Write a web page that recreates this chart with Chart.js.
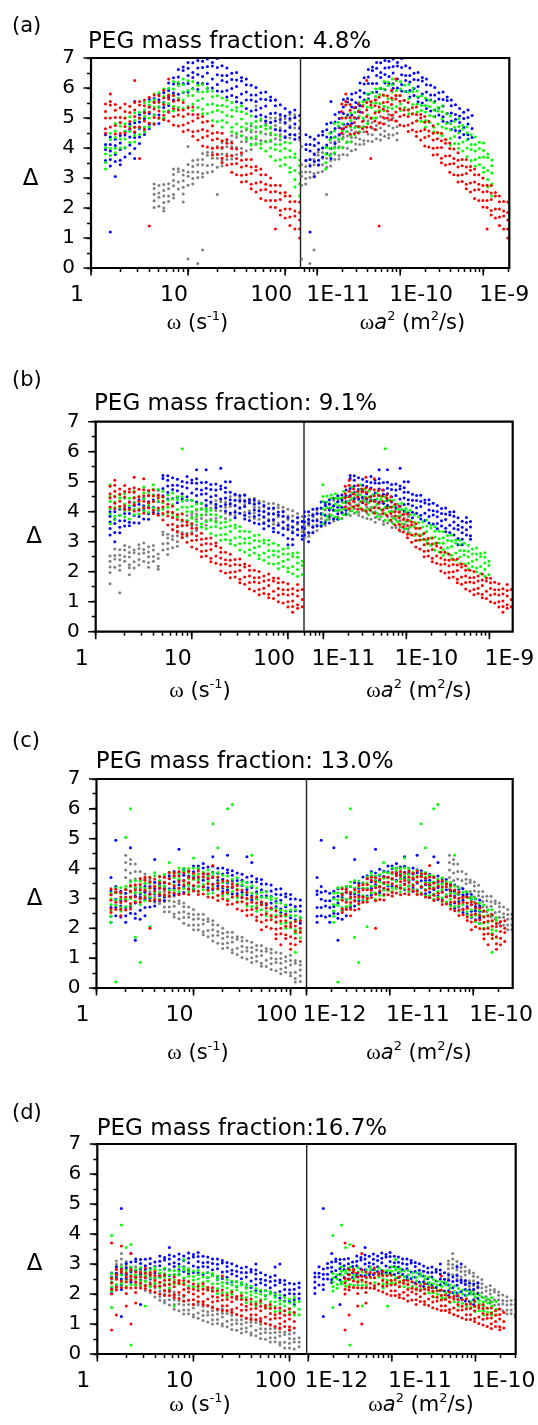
<!DOCTYPE html>
<html><head><meta charset="utf-8">
<script src="https://cdn.jsdelivr.net/npm/chart.js@4.4.1/dist/chart.umd.min.js"></script>
<style>
html,body{margin:0;padding:0;background:#fff;}
#wrap{position:relative;width:538px;height:1425px;overflow:hidden;background:#fff;}
canvas{position:absolute;left:0;top:0;}
</style></head><body><div id="wrap"></div>
<script>
// ---------- DATA ----------
// measurement frequencies omega (s^-1), one column per value
const omegaCols = [1.41,1.58,1.78,2.00,2.24,2.51,2.82,3.16,3.55,3.98,
  4.47,5.01,5.62,6.31,7.08,7.94,8.91,10.0,11.2,12.6,
  14.1,15.8,17.8,20.0,22.4,25.1,28.2,31.6,35.5,39.8,
  44.7,50.1,56.2,63.1,70.8,79.4,89.1,100,112,126,141];

// Panel (a) 4.8%: Delta values read per omega column
const A_blue = [[3.58,3.95,4.12,4.44],[1.2,3.4,3.62,3.9,4.12,4.37],[3.05,3.55,3.78,4.08,4.29],[3.44,3.59,3.95,4.17,4.42],[3.7,4.0,4.43,4.55],[3.82,4.1,4.37,4.61,4.8],[3.65,3.98,4.35,4.52,4.84,5.55],[4.15,4.37,4.65,4.87,5.12],[4.45,4.68,4.98,5.19],[4.64,4.79,5.15,5.37,5.62],
  [4.8,5.1,5.53,5.65],[4.82,5.1,5.37,5.61,5.8],[4.98,5.35,5.52,5.84],[5.2,5.42,5.7,5.92,6.17],[5.6,5.83,6.13,6.34],[5.64,5.79,6.15,6.37,6.62],[5.85,6.15,6.58,6.7],[5.87,6.15,6.42,6.66,6.85],[5.98,6.35,6.52,6.84],[5.95,6.17,6.45,6.67,6.92],
  [6.15,6.38,6.68,6.89],[5.99,6.14,6.5,6.72,6.97],[6.0,6.3,6.73,6.85],[5.9,6.12,6.44,6.68,6.98],[5.88,6.25,6.42,6.74],[5.7,5.92,6.2,6.42,6.67],[5.75,5.98,6.28,6.49],[5.54,5.69,6.05,6.27,6.52],[5.5,5.8,6.23,6.35],[5.32,5.6,5.87,6.11,6.3],
  [5.23,5.6,5.77,6.09],[5.05,5.27,5.55,5.77,6.02],[5.1,5.33,5.63,5.84],[4.89,5.04,5.4,5.62,5.87],[4.85,5.15,5.58,5.7],[4.62,4.9,5.17,5.41,5.6],[4.58,4.95,5.12,5.44],[4.35,4.57,4.85,5.07,5.32],[4.45,4.68,4.98,5.19],[4.29,4.44,4.8,5.02,5.27],
  [4.35,4.65,5.08]];
const A_green = [[3.3,3.52,3.8,4.02],[3.75,3.98,4.28,4.49],[3.84,3.99,4.35,4.57,4.82],[4.0,4.3,4.73,4.85],[4.02,4.3,4.57,4.81,5.0],[4.18,4.55,4.72,5.04],[4.2,4.42,4.7,4.92,5.17],[4.45,4.68,4.98,5.19],[4.54,4.69,5.05,5.27,5.52],[4.7,5.0,5.43,5.55],
  [4.82,5.1,5.37,5.61,5.8],[4.98,5.35,5.52,5.84],[5.0,5.22,5.5,5.72,5.97],[5.25,5.48,5.78,5.99],[5.24,5.39,5.75,5.97,6.22],[5.35,5.65,6.08,6.2],[5.32,5.6,5.87,6.11,6.3],[5.38,5.75,5.92,6.24],[5.25,5.47,5.75,5.97,6.22],[5.35,5.58,5.88,6.09],
  [5.14,5.29,5.65,5.87,6.12],[5.15,5.45,5.88,6.0],[4.92,5.2,5.47,5.71,5.9],[4.88,5.25,5.42,5.74],[4.7,4.92,5.2,5.42,5.67],[4.85,5.08,5.38,5.59],[4.54,4.69,5.05,5.27,5.52],[4.5,4.8,5.23,5.35],[4.42,4.7,4.97,5.21,5.4],[4.28,4.65,4.82,5.14],
  [4.1,4.32,4.6,4.82,5.07],[4.15,4.38,4.68,4.89],[3.99,4.14,4.5,4.72,4.97],[3.9,4.2,4.63,4.75],[3.72,4.0,4.27,4.51,4.7],[3.58,3.95,4.12,4.44],[3.4,3.62,3.9,4.12,4.37],[3.45,3.68,3.98,4.19],[3.19,3.34,3.7,3.92,4.17],[2.7,2.95,3.25,3.68,3.8],
  [2.4,2.8,3.17,3.41,3.6]];
const A_red = [[4.49,4.64,5.0,5.22,5.47],[4.7,5.0,5.43,5.55,5.8],[4.47,4.75,5.02,5.26,5.45],[4.48,4.85,5.02,5.34],[4.5,4.72,5.0,5.22,5.47],[4.65,4.88,5.18,5.39],[4.54,4.69,5.05,5.27,5.52,6.25],[3.65,4.7,5.0,5.43,5.55],[4.62,4.9,5.17,5.41,5.6],[1.4,4.83,5.2,5.37,5.69],
  [4.8,5.02,5.3,5.52,5.77],[5.0,5.23,5.53,5.74],[4.94,5.09,5.45,5.67,5.92],[4.9,5.2,5.63,5.75,6.3],[4.77,5.05,5.32,5.56,5.75],[4.73,5.1,5.27,5.59],[4.55,4.77,5.05,5.27,5.52],[4.6,4.83,5.13,5.34],[4.39,4.54,4.9,5.12,5.37],[4.27,4.57,5.0,5.12],
  [4.07,4.35,4.62,4.86,5.05],[4.03,4.4,4.57,4.89],[3.77,3.99,4.27,4.49,4.74],[3.78,4.01,4.31,4.52],[3.51,3.66,4.02,4.24,4.49],[3.43,3.73,4.16,4.28],[3.19,3.47,3.74,3.98,4.17],[3.11,3.48,3.65,3.97],[2.87,3.09,3.37,3.59,3.84],[2.88,3.11,3.41,3.62],
  [2.64,2.79,3.15,3.37,3.62],[2.53,2.83,3.26,3.38],[2.32,2.6,2.87,3.11,3.3],[2.25,2.62,2.79,3.11],[2.03,2.25,2.53,2.75,3.0],[1.3,2.02,2.25,2.55,2.76],[1.77,1.92,2.28,2.5,2.75],[1.67,1.97,2.4,2.52],[1.42,1.7,1.97,2.21,2.4],[1.3,1.73,1.9,2.22],
  [1.0,1.3,1.6,1.85,2.2]];
const A_gray = [[],[],[],[],[],[],[],[],[],[],
  [2.02,2.24,2.46,2.65,2.8],[2.06,2.36,2.5,2.75],[1.9,2.0,2.18,2.4,2.58,2.78],[2.22,2.4,2.64,2.81],[2.33,2.45,2.74,2.92,3.12,3.3],[2.63,2.87,3.21,3.31],[2.2,2.47,2.69,2.91,3.1,3.25],[0.3,2.76,3.06,3.2,3.45,4.05],[2.8,2.98,3.2,3.38,3.58],[0.15,3.02,3.2,3.44,3.61],
  [0.6,3.03,3.15,3.44,3.62,3.82],[3.18,3.42,3.76,3.86],[3.22,3.44,3.66,3.85,4.0],[2.45,3.36,3.66,3.8,4.05],[3.4,3.58,3.8,3.98,4.18],[3.62,3.8,4.04,4.21],[3.63,3.75,4.04,4.22,4.42],[3.78,4.02,4.36,4.46],[3.77,3.99,4.21,4.4,4.55],[3.91,4.21,4.35,4.6],
  [3.95,4.13,4.35,4.53,4.73],[4.12,4.3,4.54,4.71,5.4],[4.13,4.25,4.54,4.72,4.92],[4.23,4.47,4.81,4.91],[4.22,4.44,4.66,4.85,5.0],[4.31,4.61,4.75,5.0,5.6],[4.27,4.45,4.67,4.85,5.05],[4.39,4.57,4.81,4.98],[4.33,4.45,4.74,4.92,5.12],[4.43,4.67,5.01,5.11],
  [4.27,4.49,4.71,4.9]];
// Panel (b) 9.1%
const B_blue = [[3.22,3.44,3.66,3.85,4.0],[3.0,3.31,3.61,3.75,4.0],[3.3,3.48,3.7,3.88,4.08],[3.52,3.7,3.94,4.11],[3.53,3.65,3.94,4.12,4.32],[3.63,3.87,4.21,4.31],[3.62,3.84,4.06,4.25,4.4],[3.76,4.06,4.2,4.45],[3.75,3.93,4.15,4.33,4.53],[3.97,4.15,4.39,4.56],
  [3.93,4.05,4.34,4.52,4.72],[4.53,4.77,5.11,5.21],[4.42,4.64,4.86,5.05,5.2],[4.44,4.74,4.88,5.13],[4.3,4.48,4.7,4.88,5.08],[4.42,4.6,4.84,5.01],[4.38,4.5,4.79,4.97,5.17],[4.38,4.62,4.96,5.06],[4.32,4.54,4.76,4.95,5.1,5.4],[4.28,4.58,4.72,4.97],
  [4.2,4.38,4.6,4.78,4.98,5.4],[4.32,4.5,4.74,4.91],[4.13,4.25,4.54,4.72,4.92],[4.18,4.42,4.76,4.86,5.45],[4.02,4.24,4.46,4.65,4.8,5.0],[3.96,4.26,4.4,4.65,5.0],[3.8,3.98,4.2,4.38,4.58],[3.95,4.13,4.37,4.54],[3.76,3.88,4.17,4.35,4.55],[3.71,3.95,4.29,4.39],
  [3.62,3.84,4.06,4.25,4.4],[3.59,3.89,4.03,4.28],[3.43,3.61,3.83,4.01,4.21],[3.52,3.7,3.94,4.11],[3.33,3.45,3.74,3.92,4.12],[3.31,3.55,3.89,3.99],[3.22,3.44,3.66,3.85,4.0],[2.9,3.11,3.41,3.55,3.8],[2.9,3.08,3.3,3.48,3.68],[3.22,3.4,3.64,3.81],
  [3.08,3.2,3.49,3.67]];
const B_green = [[3.6,3.92,4.1,4.34,4.51,4.9],[3.73,3.85,4.14,4.32,4.52],[3.88,4.12,4.46,4.56],[3.82,4.04,4.26,4.45,4.6],[3.76,4.06,4.2,4.45],[3.9,4.08,4.3,4.48,4.68],[3.92,4.1,4.34,4.51],[4.03,4.15,4.44,4.62,4.82],[3.98,4.22,4.56,4.66],[4.12,4.34,4.56,4.75,4.9],
  [4.06,4.36,4.5,4.75],[3.9,4.08,4.3,4.48,4.68],[3.97,4.15,4.39,4.56],[3.83,3.95,4.24,4.42,4.62],[3.83,4.07,4.41,4.51],[3.72,3.94,4.16,4.35,4.5,6.1],[3.71,4.01,4.15,4.4],[3.6,3.78,4.0,4.18,4.38],[3.67,3.85,4.09,4.26],[3.48,3.6,3.89,4.07,4.27],
  [3.43,3.67,4.01,4.11],[3.27,3.49,3.71,3.9,4.05],[3.21,3.51,3.65,3.9],[3.05,3.23,3.45,3.63,3.83],[3.07,3.25,3.49,3.66],[2.93,3.05,3.34,3.52,3.72],[2.88,3.12,3.46,3.56],[2.72,2.94,3.16,3.35,3.5],[2.66,2.96,3.1,3.35],[2.55,2.73,2.95,3.13,3.33],
  [2.62,2.8,3.04,3.21],[2.43,2.55,2.84,3.02,3.22],[2.38,2.62,2.96,3.06],[2.27,2.49,2.71,2.9,3.05],[2.26,2.56,2.7,2.95],[2.1,2.28,2.5,2.68,2.88],[2.17,2.35,2.59,2.76],[2.0,2.12,2.41,2.59,2.79],[1.93,2.17,2.51,2.61],[1.85,2.07,2.29,2.48,2.63],
  [1.91,2.21,2.35]];
const B_red = [[4.16,4.46,4.6,4.85],[4.1,4.28,4.5,4.68,4.88,5.05],[4.17,4.35,4.59,4.76],[4.08,4.2,4.49,4.67,4.87],[4.08,4.32,4.66,4.76],[4.02,4.24,4.46,4.65,4.8,5.15],[4.06,4.36,4.5,4.75],[3.95,4.13,4.35,4.53,4.73,5.1],[4.12,4.3,4.54,4.71],[3.93,4.05,4.34,4.52,4.72],
  [3.88,4.12,4.46,4.56],[3.72,3.94,4.16,4.35,4.5],[3.56,3.86,4.0,4.25],[3.4,3.58,3.8,3.98,4.18],[3.32,3.5,3.74,3.91],[3.13,3.25,3.54,3.72,3.92],[2.98,3.22,3.56,3.66],[2.82,3.04,3.26,3.45,3.6],[2.76,3.06,3.2,3.45],[2.5,2.68,2.9,3.08,3.28],
  [2.52,2.7,2.94,3.11],[2.33,2.45,2.74,2.92,3.12],[2.28,2.52,2.86,2.96],[2.02,2.24,2.46,2.65,2.8],[1.96,2.26,2.4,2.65],[1.8,1.98,2.2,2.38,2.58],[1.82,2.0,2.24,2.41],[1.63,1.75,2.04,2.22,2.42],[1.58,1.82,2.16,2.26],[1.42,1.64,1.86,2.05,2.2],
  [1.36,1.66,1.8,2.05],[1.23,1.41,1.63,1.81,2.01],[1.27,1.45,1.69,1.86],[1.13,1.25,1.54,1.72,1.92],[1.11,1.35,1.69,1.79],[1.0,1.22,1.44,1.63,1.78],[0.96,1.26,1.4,1.65],[0.82,1.0,1.22,1.4,1.6],[0.65,0.84,1.02,1.26,1.43],[0.78,0.9,1.19,1.37,1.57],
  [0.83,1.07,1.41]];
const B_gray = [[1.6,1.97,2.16,2.35,2.52],[2.15,2.42,2.54,2.76],[1.3,2.05,2.21,2.4,2.56,2.73],[2.35,2.51,2.72,2.87],[1.9,2.13,2.23,2.49,2.64,2.82],[2.12,2.33,2.63,2.72],[2.22,2.41,2.6,2.77,2.9],[2.35,2.62,2.74,2.96],[2.15,2.31,2.5,2.66,2.83],[2.35,2.51,2.72,2.87],
  [2.08,2.18,2.44,2.59],[2.72,2.93,3.23,3.32],[2.57,2.76,2.95,3.12,3.25],[2.8,3.07,3.19,3.41],[2.85,3.01,3.2,3.36,3.53],[3.15,3.31,3.52,3.67],[3.18,3.28,3.54,3.69,3.87],[3.32,3.53,3.83,3.92],[3.37,3.56,3.75,3.92,4.05],[3.5,3.77,3.89,4.11],
  [3.55,3.71,3.9,4.06,4.23],[3.75,3.91,4.12,4.27],[3.68,3.78,4.04,4.19,4.37],[3.82,4.03,4.33,4.42],[3.77,3.96,4.15,4.32,4.45],[3.9,4.17,4.29,4.51],[3.87,4.03,4.22,4.38,4.55],[3.95,4.11,4.32,4.47],[3.88,3.98,4.24,4.39,4.57],[3.82,4.03,4.33,4.42],
  [3.77,3.96,4.15,4.32,4.45],[3.75,4.02,4.14,4.36],[3.65,3.81,4.0,4.16,4.33],[3.75,3.91,4.12,4.27],[3.58,3.68,3.94,4.09,4.27],[3.62,3.83,4.13,4.22],[3.47,3.66,3.85,4.02,4.15],[3.47,3.74,3.86,4.08],[3.35,3.51,3.7,3.86,4.03],[3.42,3.58,3.79,3.94],
  [3.33,3.43,3.69,3.84]];
// Panel (c) 13.0%
const C_blue = [[2.2,2.4,2.7,3.13,3.25,3.7],[2.42,2.7,2.97,3.21,3.4,4.95],[2.38,2.75,2.92,3.24],[2.2,2.42,2.7,2.92,3.17],[2.5,2.73,3.03,3.24,4.7],[1.6,2.34,2.49,2.85,3.07,3.32],[2.3,2.6,3.03,3.15],[2.42,2.7,2.97,3.21,3.4],[2.71,3.01,3.15,3.4],[2.75,2.93,3.15,3.33,3.53,4.3],
  [2.92,3.1,3.34,3.51],[2.93,3.05,3.34,3.52,3.72],[3.08,3.32,3.66,3.76],[3.12,3.34,3.56,3.75,3.9],[3.16,3.46,3.6,3.85,4.65],[3.2,3.38,3.6,3.78,3.98],[3.32,3.5,3.74,3.91],[3.3,3.42,3.71,3.89,4.09],[3.41,3.65,3.99,4.09],[3.39,3.61,3.83,4.02,4.17],
  [3.36,3.66,3.8,4.05],[3.3,3.48,3.7,3.88,4.08,4.4],[3.42,3.6,3.84,4.01],[3.23,3.35,3.64,3.82,4.02],[3.28,3.52,3.86,3.96,4.45],[3.15,3.37,3.59,3.78,3.93],[3.16,3.46,3.6,3.85],[3.03,3.21,3.43,3.61,3.81],[3.12,3.3,3.54,3.71,4.4],[2.96,3.08,3.37,3.55,3.75,4.2],
  [2.98,3.22,3.56,3.66],[2.85,3.07,3.29,3.48,3.63],[2.79,3.09,3.23,3.48],[2.67,2.85,3.07,3.25,3.45],[2.72,2.9,3.14,3.31],[2.53,2.65,2.94,3.12,3.32],[2.48,2.72,3.06,3.16],[2.35,2.57,2.79,2.98,3.13],[2.29,2.59,2.73,2.98],[2.17,2.35,2.57,2.75,2.95],
  []];
const C_green = [[2.2,2.4,2.58,2.8,2.98,3.18],[0.2,2.77,2.95,3.19,3.36],[2.58,2.7,2.99,3.17,3.37],[2.73,2.97,3.31,3.41,5.05],[2.77,2.99,3.21,3.4,3.55,6.0],[1.7,2.91,3.21,3.35,3.6],[0.85,2.8,2.98,3.2,3.38,3.58],[2.92,3.1,3.34,3.51],[2.05,2.93,3.05,3.34,3.52,3.72],[3.18,3.42,3.76,3.86],
  [2.97,3.19,3.41,3.6,3.75],[3.11,3.41,3.55,3.8],[3.1,3.28,3.5,3.68,3.88,4.2],[3.27,3.45,3.69,3.86],[3.23,3.35,3.64,3.82,4.02],[3.33,3.57,3.91,4.01],[3.22,3.44,3.66,3.85,4.0],[3.33,3.63,3.77,4.02,4.35],[3.23,3.41,3.63,3.81,4.01],[3.29,3.47,3.71,3.88],
  [3.16,3.28,3.57,3.75,3.95],[3.18,3.42,3.76,3.86,5.5],[3.09,3.31,3.53,3.72,3.87,4.7],[3.09,3.39,3.53,3.78],[2.97,3.15,3.37,3.55,3.75,6.0],[3.05,3.23,3.47,3.64,6.15],[2.9,3.02,3.31,3.49,3.69],[2.88,3.12,3.46,3.56],[2.75,2.97,3.19,3.38,3.53],[2.73,3.03,3.17,3.42,4.45],
  [2.57,2.75,2.97,3.15,3.35],[2.62,2.8,3.04,3.21],[2.43,2.55,2.84,3.02,3.22],[2.38,2.62,2.96,3.06],[2.22,2.44,2.66,2.85,3.0],[2.16,2.46,2.6,2.85],[2.0,2.18,2.4,2.58,2.78],[2.02,2.2,2.44,2.61],[1.2,1.83,1.95,2.24,2.42,2.62],[1.68,1.92,2.26,2.36],
  []];
const C_red = [[2.53,2.65,2.94,3.12,3.32],[2.63,2.87,3.21,3.31],[2.42,2.64,2.86,3.05,3.2],[2.61,2.91,3.05,3.3],[2.65,2.83,3.05,3.23,3.43],[2.87,3.05,3.29,3.46],[2.88,3.0,3.29,3.47,3.67],[3.03,3.27,3.61,3.71],[2.0,2.92,3.14,3.36,3.55,3.7],[2.96,3.26,3.4,3.65],
  [2.95,3.13,3.35,3.53,3.73],[3.12,3.3,3.54,3.71],[3.08,3.2,3.49,3.67,3.87],[3.18,3.42,3.76,3.86],[3.12,3.34,3.56,3.75,3.9],[3.16,3.46,3.6,3.85],[3.13,3.31,3.53,3.71,3.91],[3.25,3.43,3.67,3.84],[3.13,3.25,3.54,3.72,3.92],[3.15,3.39,3.73,3.83],
  [3.05,3.27,3.49,3.68,3.83],[3.03,3.33,3.47,3.72,4.1],[2.93,3.11,3.33,3.51,3.71],[2.99,3.17,3.41,3.58],[2.8,2.92,3.21,3.39,3.59],[2.81,3.05,3.39,3.49],[2.65,2.87,3.09,3.28,3.43],[2.59,2.89,3.03,3.28],[2.43,2.61,2.83,3.01,3.21],[2.45,2.63,2.87,3.04],
  [2.26,2.38,2.67,2.85,3.05],[1.95,2.21,2.45,2.79,2.89],[2.05,2.27,2.49,2.68,2.83],[1.99,2.29,2.43,2.68],[1.65,1.8,1.98,2.2,2.38,2.58],[1.45,1.82,2.0,2.24,2.41],[1.66,1.78,2.07,2.25,2.45],[1.3,1.48,1.72,2.06,2.16],[1.45,1.67,1.89,2.08,2.23],[1.56,1.86,2.0,2.25],
  []];
const C_gray = [[],[],[],[3.3,3.7,3.95,4.2,4.45],[3.25,3.6,3.85,4.15,4.3],[3.15,3.4,3.65,3.9,4.15],[3.05,3.35,3.6,3.9],[3.1,3.23,3.49,3.64,3.82],[3.02,3.23,3.53,3.62],[2.87,3.06,3.25,3.42,3.55],
  [2.83,3.1,3.22,3.44],[2.55,2.71,2.9,3.06,3.23],[2.55,2.71,2.92,3.07],[2.38,2.48,2.74,2.89,3.07],[2.32,2.53,2.83,2.92],[2.17,2.36,2.55,2.72,2.85],[2.1,2.37,2.49,2.71],[1.95,2.11,2.3,2.46,2.63],[1.95,2.11,2.32,2.47],[1.78,1.88,2.14,2.29,2.47],
  [1.72,1.93,2.23,2.32],[1.57,1.76,1.95,2.12,2.25],[1.5,1.77,1.89,2.11],[1.32,1.48,1.67,1.83,2.0],[1.35,1.51,1.72,1.87],[1.18,1.28,1.54,1.69,1.87],[1.12,1.33,1.63,1.72],[1.02,1.21,1.4,1.57,1.7],[0.97,1.24,1.36,1.58],[0.85,1.01,1.2,1.36,1.53],
  [0.9,1.06,1.27,1.42],[0.73,0.83,1.09,1.24,1.42],[0.72,0.93,1.23,1.32],[0.62,0.81,1.0,1.17,1.3],[0.58,0.85,0.97,1.19],[0.48,0.64,0.83,0.99,1.16],[0.53,0.69,0.9,1.05],[0.41,0.51,0.77,0.92,1.1],[0.2,0.32,0.53,0.83,0.92],[0.22,0.41,0.6,0.77,0.9],
  []];
// Panel (d) 16.7%
const D_blue = [[2.02,2.21,2.4,2.57,2.7],[2.3,2.57,2.69,2.91],[1.25,2.15,2.31,2.5,2.66,2.83,4.85],[2.5,2.66,2.87,3.02],[2.38,2.48,2.74,2.89,3.07,3.35],[2.57,2.78,3.08,3.17],[1.65,2.47,2.66,2.85,3.02,3.15],[2.55,2.82,2.94,3.16],[2.5,2.66,2.85,3.01,3.18],[2.55,2.71,2.92,3.07],
  [2.58,2.68,2.94,3.09,3.27],[2.62,2.83,3.13,3.22],[2.62,2.81,3.0,3.17,3.3,3.55],[2.65,2.92,3.04,3.26],[2.65,2.81,3.0,3.16,3.33],[2.75,2.91,3.12,3.27],[2.68,2.78,3.04,3.19,3.37],[2.72,2.93,3.23,3.32],[2.7,2.89,3.08,3.25,3.38],[2.65,2.92,3.04,3.26],
  [2.55,2.71,2.9,3.06,3.23],[2.65,2.81,3.02,3.17],[2.48,2.58,2.84,2.99,3.17],[2.52,2.73,3.03,3.12],[2.37,2.56,2.75,2.92,3.05],[2.4,2.67,2.79,3.01],[2.25,2.41,2.6,2.76,2.93],[2.35,2.51,2.72,2.87],[2.21,2.31,2.57,2.72,2.9],[2.22,2.43,2.73,2.82],
  [2.12,2.31,2.5,2.67,2.8,3.0],[2.1,2.37,2.49,2.71],[1.95,2.11,2.3,2.46,2.63],[2.05,2.21,2.42,2.57],[1.93,2.03,2.29,2.44,2.62,2.9],[1.87,2.08,2.38,2.47,3.0],[1.77,1.96,2.15,2.32,2.45],[1.75,2.02,2.14,2.36],[1.65,1.81,2.0,2.16,2.33],[1.85,2.01,2.22,2.37],
  []];
const D_green = [[1.55,2.1,2.24,2.4,2.54,2.68,3.95],[2.19,2.32,2.5,2.63],[2.33,2.41,2.63,2.76,2.91,4.3],[2.26,2.44,2.7,2.78,3.55],[0.3,2.32,2.48,2.64,2.79,2.9,3.65],[2.29,2.52,2.63,2.82],[2.3,2.44,2.6,2.74,2.88],[1.6,2.29,2.42,2.6,2.73],[2.23,2.31,2.53,2.66,2.81],[2.36,2.54,2.8,2.88],
  [2.22,2.38,2.54,2.69,2.8],[2.34,2.57,2.68,2.87],[2.2,2.34,2.5,2.64,2.78],[1.6,2.34,2.47,2.65,2.78],[2.33,2.41,2.63,2.76,2.91],[2.36,2.54,2.8,2.88,3.15],[2.27,2.43,2.59,2.74,2.85],[2.24,2.47,2.58,2.77],[2.2,2.34,2.5,2.64,2.78],[2.26,2.39,2.57,2.7],
  [2.13,2.21,2.43,2.56,2.71],[2.16,2.34,2.6,2.68],[2.02,2.18,2.34,2.49,2.6],[2.04,2.27,2.38,2.57],[1.9,2.04,2.2,2.34,2.48],[1.99,2.12,2.3,2.43],[1.83,1.91,2.13,2.26,2.41],[1.86,2.04,2.3,2.38],[1.72,1.88,2.04,2.19,2.3],[1.74,1.97,2.08,2.27],
  [1.6,1.74,1.9,2.04,2.18],[1.69,1.82,2.0,2.13],[1.53,1.61,1.83,1.96,2.11],[1.56,1.74,2.0,2.08],[1.42,1.58,1.74,1.89,2.0],[1.44,1.67,1.78,1.97],[1.3,1.44,1.6,1.74,1.88],[1.39,1.52,1.7,1.83],[1.3,1.38,1.6,1.73,1.88],[1.31,1.49,1.75],
  []];
const D_red = [[0.8,2.0,2.16,2.37,2.52,3.7],[1.3,2.13,2.23,2.49,2.64,2.82],[2.22,2.43,2.73,2.82,3.6],[1.6,2.02,2.21,2.4,2.57,2.7],[1.0,2.2,2.47,2.59,2.81,3.35],[1.7,2.05,2.21,2.4,2.56,2.73],[2.2,2.36,2.57,2.72],[2.18,2.28,2.54,2.69,2.87],[2.12,2.33,2.63,2.72],[2.07,2.26,2.45,2.62,2.75],
  [2.0,2.27,2.39,2.61],[1.95,2.11,2.3,2.46,2.63],[1.95,2.11,2.32,2.47],[1.88,1.98,2.24,2.39,2.57],[1.85,2.06,2.36,2.45],[1.77,1.96,2.15,2.32,2.45],[1.8,2.07,2.19,2.41],[1.65,1.81,2.0,2.16,2.33],[1.75,1.91,2.12,2.27],[1.65,1.75,2.01,2.16,2.34],
  [1.62,1.83,2.13,2.22],[1.54,1.73,1.92,2.09,2.22],[1.5,1.77,1.89,2.11],[1.45,1.61,1.8,1.96,2.13,2.6],[1.45,1.61,1.82,1.97],[1.38,1.48,1.74,1.89,2.07],[1.32,1.53,1.83,1.92],[1.27,1.46,1.65,1.82,1.95],[1.2,1.47,1.59,1.81],[1.15,1.31,1.5,1.66,1.83],
  [1.15,1.31,1.52,1.67],[1.08,1.18,1.44,1.59,1.77],[1.02,1.23,1.53,1.62],[0.97,1.16,1.35,1.52,1.65],[0.92,1.19,1.31,1.53],[0.85,1.01,1.2,1.36,1.53],[0.92,1.08,1.29,1.44],[0.81,0.91,1.17,1.32,1.5],[0.87,1.08,1.38],[],
  []];
const D_gray = [[],[2.52,2.68,2.84,2.99,3.1],[2.64,2.87,2.98,3.17,3.35],[2.5,2.64,2.8,2.94,3.08],[2.44,2.57,2.75,2.88],[2.33,2.41,2.63,2.76,2.91],[2.26,2.44,2.7,2.78],[2.12,2.28,2.44,2.59,2.7],[2.04,2.27,2.38,2.57],[1.9,2.04,2.2,2.34,2.48],
  [1.79,1.92,2.1,2.23],[1.7,1.78,2.0,2.13,2.28],[1.63,1.81,2.07,2.15],[1.49,1.65,1.81,1.96,2.07],[1.44,1.67,1.78,1.97],[1.33,1.47,1.63,1.77,1.91],[1.34,1.47,1.65,1.78],[1.23,1.31,1.53,1.66,1.81],[1.19,1.37,1.63,1.71],[1.12,1.28,1.44,1.59,1.7],
  [1.07,1.3,1.41,1.6],[1.0,1.14,1.3,1.44,1.58],[1.02,1.15,1.33,1.46],[0.93,1.01,1.23,1.36,1.51],[0.91,1.09,1.35,1.43],[0.82,0.98,1.14,1.29,1.4],[0.79,1.02,1.13,1.32],[0.7,0.84,1.0,1.14,1.28],[0.74,0.87,1.05,1.18],[0.63,0.71,0.93,1.06,1.21],
  [0.61,0.79,1.05,1.13],[0.52,0.68,0.84,0.99,1.1],[0.49,0.72,0.83,1.02],[0.4,0.54,0.7,0.84,0.98],[0.41,0.54,0.72,0.85],[0.3,0.38,0.6,0.73,0.88],[0.2,0.39,0.65,0.73],[0.2,0.36,0.52,0.67,0.78],[0.17,0.4,0.51,0.7],[0.24,0.4,0.54],
  []];

// particle a^2 (m^2) per series [blue, green, red, gray] for each panel
const a2_A = [5.2e-12, 9e-12, 1.4e-11, 6.5e-13];
const a2_B = [4.2e-12, 7e-12, 1.3e-11, 7.5e-13];
const a2_C = [9.5e-13, 1.5e-12, 1.9e-12, 2.6e-11];
const a2_D = [8.5e-13, 1.4e-12, 1.95e-12, 3e-11];

const panelLabels = ['(a)','(b)','(c)','(d)'];
const panelTitles = ['PEG mass fraction: 4.8%','PEG mass fraction: 9.1%','PEG mass fraction: 13.0%','PEG mass fraction:16.7%'];
const leftXMax = [144, 147, 146, 151];
const rightXMin = [6.3e-12, 5.85e-12, 1e-12, 9.57e-13];
const rightXMax = [2.06e-9, 1.91e-9, 2.98e-10, 3.03e-10];
const leftDecades = [1, 10, 100];
const leftDecadeLabels = ['1','10','100'];
const rightDecades = [[1e-11,1e-10,1e-9],[1e-11,1e-10,1e-9],[1e-12,1e-11,1e-10],[1e-12,1e-11,1e-10]];
const rightDecadeLabels = [['1E-11','1E-10','1E-9'],['1E-11','1E-10','1E-9'],['1E-12','1E-11','1E-10'],['1E-12','1E-11','1E-10']];

// ---------- LAYOUT / STYLE ----------
const W = 538, H = 1425;
const SANS = '"DejaVu Sans", sans-serif';
const SERIF = '"Liberation Serif", "DejaVu Serif", serif';
const seriesColors = ['#0000ff', '#00ff00', '#ff0000', '#808080'];
const seriesOrder = [2, 1, 0, 3];
const GEO = [
  {L:91,   D:300.5, R:509.3, T:58,    B:268,   lab:[12,32],    tit:[88,47.7],   dl:[30.5,185], xtL:[197.5,322.5], xtR:[412.5,322.5], offR:21},
  {L:95.7, D:304,   R:512.7, T:421.7, B:631.7, lab:[12,385.5], tit:[94,410],    dl:[34,543],   xtL:[200,690],     xtR:[419,690],     offR:20},
  {L:96.5, D:306.5, R:512.7, T:779,   B:988,   lab:[12,747],   tit:[95.7,768.3],dl:[34.5,905], xtL:[198,1052],    xtR:[419,1052],    offR:28},
  {L:97.3, D:306.7, R:515.7, T:1144,  B:1354,  lab:[12,1119],  tit:[96.7,1135], dl:[34.5,1270],xtL:[200,1404],    xtR:[421,1404],    offR:28}
];
const panelSeries = [
  [A_blue, A_green, A_red, A_gray],
  [B_blue, B_green, B_red, B_gray],
  [C_blue, C_green, C_red, C_gray],
  [D_blue, D_green, D_red, D_gray]
];
const panelA2 = [a2_A, a2_B, a2_C, a2_D];

function buildPoints(cols, factor) {
  const out = [];
  cols.forEach((c, i) => c.forEach(d => out.push({x: omegaCols[i] * factor, y: d})));
  return out;
}
function logTicks(min, max) {
  const out = [];
  for (let k = Math.floor(Math.log10(min)); k <= Math.floor(Math.log10(max)); k++) {
    for (let m = 1; m <= 9; m++) {
      const v = m * Math.pow(10, k);
      if (v >= min * 0.9999 && v <= max * 1.0001) out.push({value: v, major: m === 1});
    }
  }
  return out;
}
function drawRuns(ctx, runs, cx, baseline) {
  let total = 0;
  runs.forEach(r => { ctx.font = r.f; r.w = ctx.measureText(r.t).width; total += r.w; });
  let x = cx - total / 2;
  runs.forEach(r => { ctx.font = r.f; ctx.fillText(r.t, x, baseline + (r.dy || 0)); x += r.w; });
}
const xTitleLeft = () => [
  {t:'ω', f:`22px ${SERIF}`}, {t:' (s', f:`21px ${SANS}`}, {t:'-1', f:`13px ${SANS}`, dy:-9}, {t:')', f:`21px ${SANS}`}];
const xTitleRight = () => [
  {t:'ω', f:`22px ${SERIF}`}, {t:'a', f:`italic 21px ${SANS}`}, {t:'2', f:`13px ${SANS}`, dy:-9},
  {t:' (m', f:`21px ${SANS}`}, {t:'2', f:`13px ${SANS}`, dy:-9}, {t:'/s)', f:`21px ${SANS}`}];

function makePlugin(p, isLeft) {
  return {
    id: 'deco',
    afterDraw(chart) {
      const ctx = chart.ctx, ca = chart.chartArea, xs = chart.scales.x, ys = chart.scales.y, g = GEO[p];
      ctx.save();
      ctx.strokeStyle = '#000';
      ctx.lineWidth = 1.6;
      ctx.beginPath();
      xs.ticks.forEach(t => { if (t.major) { const px = xs.getPixelForValue(t.value); ctx.moveTo(px, ca.bottom); ctx.lineTo(px, ca.bottom + 7.5); } });
      if (isLeft) ys.ticks.forEach(t => { if (Number.isInteger(t.value)) { const py = ys.getPixelForValue(t.value); ctx.moveTo(ca.left, py); ctx.lineTo(ca.left - 7.5, py); } });
      ctx.stroke();
      ctx.lineWidth = 2.2;
      ctx.beginPath();
      if (isLeft) { ctx.moveTo(ca.right, ca.top); ctx.lineTo(ca.left, ca.top); ctx.lineTo(ca.left, ca.bottom); ctx.lineTo(ca.right, ca.bottom); }
      else { ctx.moveTo(ca.left, ca.top); ctx.lineTo(ca.right, ca.top); ctx.lineTo(ca.right, ca.bottom); ctx.lineTo(ca.left, ca.bottom); }
      ctx.stroke();
      if (isLeft) {
        ctx.lineWidth = 1.4; ctx.strokeStyle = '#222';
        ctx.beginPath(); ctx.moveTo(ca.right, ca.top); ctx.lineTo(ca.right, ca.bottom); ctx.stroke();
      }
      ctx.fillStyle = '#000'; ctx.textBaseline = 'alphabetic'; ctx.textAlign = 'left';
      if (isLeft) {
        ctx.font = `21px ${SANS}`; ctx.fillText(panelLabels[p], g.lab[0], g.lab[1]);
        ctx.font = `23px ${SANS}`; ctx.fillText(panelTitles[p], g.tit[0], g.tit[1]);
        ctx.textAlign = 'center'; ctx.font = `23px ${SANS}`; ctx.fillText('Δ', g.dl[0], g.dl[1]);
        ctx.textAlign = 'left';
        drawRuns(ctx, xTitleLeft(), g.xtL[0], g.xtL[1] + 6.5);
      } else {
        drawRuns(ctx, xTitleRight(), g.xtR[0], g.xtR[1] + 6.5);
      }
      ctx.restore();
    }
  };
}

function makeChart(p, isLeft) {
  const g = GEO[p];
  const cv = document.createElement('canvas');
  cv.width = W; cv.height = H;
  document.getElementById('wrap').appendChild(cv);
  const xmin = isLeft ? 1 : rightXMin[p];
  const xmax = isLeft ? leftXMax[p] : rightXMax[p];
  const decs = isLeft ? leftDecades : rightDecades[p];
  const labs = isLeft ? leftDecadeLabels : rightDecadeLabels[p];
  const datasets = panelSeries[p].map((cols, i) => ({
    data: buildPoints(cols, isLeft ? 1 : panelA2[p][i]),
    backgroundColor: seriesColors[i],
    borderWidth: 0,
    pointRadius: 1.5,
    pointHoverRadius: 1.5,
    order: seriesOrder[i]
  }));
  const yScale = {
    type: 'linear', min: 0, max: 7, display: isLeft,
    grid: {display: true, drawOnChartArea: false, drawTicks: true, tickLength: 4, tickWidth: 1.5, tickColor: '#000'},
    border: {display: false},
    ticks: {stepSize: 0.5, autoSkip: false, padding: 12, color: '#000', font: {family: SANS, size: 20},
      callback: v => Number.isInteger(v) ? String(v) : ''}
  };
  if (isLeft) yScale.afterFit = sc => { sc.width = g.L; sc.paddingTop = 0; sc.paddingBottom = 0; };
  new Chart(cv, {
    type: 'scatter',
    data: {datasets},
    options: {
      responsive: false, animation: false, events: [], devicePixelRatio: 1,
      layout: {padding: {left: isLeft ? 0 : g.D, right: isLeft ? W - g.D : W - g.R, top: g.T, bottom: 0}},
      plugins: {legend: {display: false}, tooltip: {enabled: false}},
      scales: {
        x: {
          type: 'logarithmic', min: xmin, max: xmax, position: 'bottom',
          afterBuildTicks: sc => { sc.ticks = logTicks(xmin, xmax); },
          afterFit: sc => { sc.height = H - g.B; sc.paddingLeft = 0; sc.paddingRight = 0; },
          grid: {display: true, drawOnChartArea: false, drawTicks: true, tickLength: 4, tickWidth: 1.5, tickColor: '#000'},
          border: {display: false},
          ticks: {autoSkip: false, maxRotation: 0, minRotation: 0, padding: 10,
            labelOffset: isLeft ? -14 : g.offR, color: '#000', font: {family: SANS, size: 22},
            callback: v => {
              for (let i = 0; i < decs.length; i++) if (Math.abs(Math.log10(v / decs[i])) < 1e-6) return labs[i];
              return '';
            }}
        },
        y: yScale
      }
    },
    plugins: [makePlugin(p, isLeft)]
  });
}
for (let p = 0; p < 4; p++) { makeChart(p, true); makeChart(p, false); }
</script></body></html>
